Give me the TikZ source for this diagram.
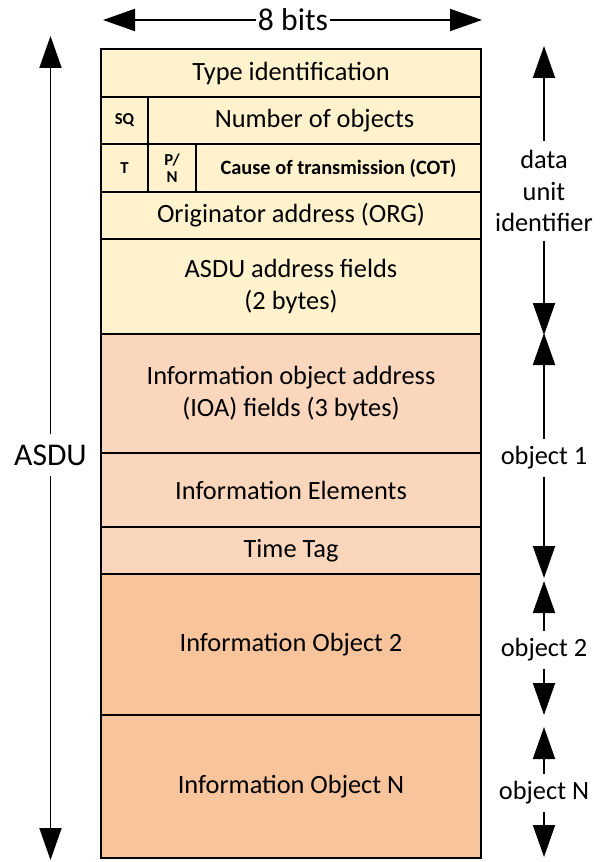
\documentclass[tikz,border=0pt]{standalone}
\usepackage{fontspec}
\setmainfont{Carlito}
\usepackage{tikz}
\usetikzlibrary{arrows.meta, positioning}
\definecolor{hdrfill}{HTML}{FFF2CC}
\definecolor{iofill}{HTML}{FAD7BC}
\definecolor{objfill}{HTML}{F8C49C}

\begin{document}
\begin{tikzpicture}[
    field/.style={rectangle, draw=black, line width=1.1pt, inner sep=0pt, outer sep=0pt, align=center, anchor=north west, font=\fontsize{15}{18}\selectfont},
    flag/.style={field, font=\fontsize{9.5}{10}\selectfont\bfseries},
    side/.style={align=center, inner xsep=0.1cm, inner ysep=0.15cm, font=\fontsize{15}{18}\selectfont},
    big/.style={inner sep=1pt, font=\fontsize{18}{20}\selectfont},
    arrow/.style={-{Triangle[length=0.64cm, width=0.44cm]}, line width=1.1pt}
]
\useasboundingbox (0,0) rectangle (12.02,-17.24);

% data unit identifier
\node[field, fill=hdrfill, minimum width=7.6cm, minimum height=0.96cm] (typeid) at (2.02,-0.98) {Type identification};
\node[flag, fill=hdrfill, minimum width=0.94cm, minimum height=0.94cm] (sq) at (typeid.south west) {SQ};
\node[field, fill=hdrfill, minimum width=6.66cm, minimum height=0.94cm] (numobj) at (sq.north east) {Number of objects};
\node[flag, fill=hdrfill, minimum width=0.94cm, minimum height=0.96cm] (tbit) at (sq.south west) {T};
\node[flag, fill=hdrfill, minimum width=0.96cm, minimum height=0.96cm] (pn) at (tbit.north east) {P/\\N};
\node[field, fill=hdrfill, minimum width=5.70cm, minimum height=0.96cm, font=\fontsize{11.6}{13}\selectfont\bfseries] (cot) at (pn.north east) {Cause of transmission (COT)};
\node[field, fill=hdrfill, minimum width=7.6cm, minimum height=0.94cm] (org) at (tbit.south west) {Originator address (ORG)};
\node[field, fill=hdrfill, minimum width=7.6cm, minimum height=1.90cm] (addr) at (org.south west) {ASDU address fields\\(2 bytes)};

% information objects
\node[field, fill=iofill, minimum width=7.6cm, minimum height=2.38cm] (ioa) at (addr.south west) {Information object address\\(IOA) fields (3 bytes)};
\node[field, fill=iofill, minimum width=7.6cm, minimum height=1.48cm] (elem) at (ioa.south west) {Information Elements};
\node[field, fill=iofill, minimum width=7.6cm, minimum height=0.94cm] (ttag) at (elem.south west) {Time Tag};
\node[field, fill=objfill, minimum width=7.6cm, minimum height=2.82cm] (io2) at (ttag.south west) {Information Object 2};
\node[field, fill=objfill, minimum width=7.6cm, minimum height=2.86cm] (ion) at (io2.south west) {Information Object N};

% 8 bits
\node[big] (bits) at (5.86,-0.40) {8 bits};
\coordinate (bits-l) at (2.06,-0.40);
\coordinate (bits-r) at (9.64,-0.40);
\draw[arrow] (bits) -- (bits-l);
\draw[arrow] (bits) -- (bits-r);

% ASDU
\node[big, inner ysep=0.2cm] (asdu) at (1.01,-9.10) {ASDU};
\coordinate (asdu-t) at (1.01,-0.72);
\coordinate (asdu-b) at (1.01,-17.20);
\draw[arrow] (asdu) -- (asdu-t);
\draw[arrow] (asdu) -- (asdu-b);

% right side labels
\node[side, inner ysep=0.17cm] (dui) at (10.88,-3.82) {data\\unit\\identifier};
\node[side] (obj1) at (10.88,-9.16) {object 1};
\node[side] (obj2) at (10.88,-13.00) {object 2};
\node[side] (objn) at (10.88,-15.86) {object N};

\coordinate (dui-t) at (10.88,-0.92);
\coordinate (dui-b) at (10.88,-6.70);
\coordinate (obj1-t) at (10.88,-6.66);
\coordinate (obj1-b) at (10.88,-11.56);
\coordinate (obj2-t) at (10.88,-11.62);
\coordinate (obj2-b) at (10.88,-14.30);
\coordinate (objn-t) at (10.88,-14.54);
\coordinate (objn-b) at (10.88,-17.14);

\foreach \lab in {dui,obj1,obj2,objn} {
    \draw[arrow] (\lab) -- (\lab-t);
    \draw[arrow] (\lab) -- (\lab-b);
}

\end{tikzpicture}
\end{document}
